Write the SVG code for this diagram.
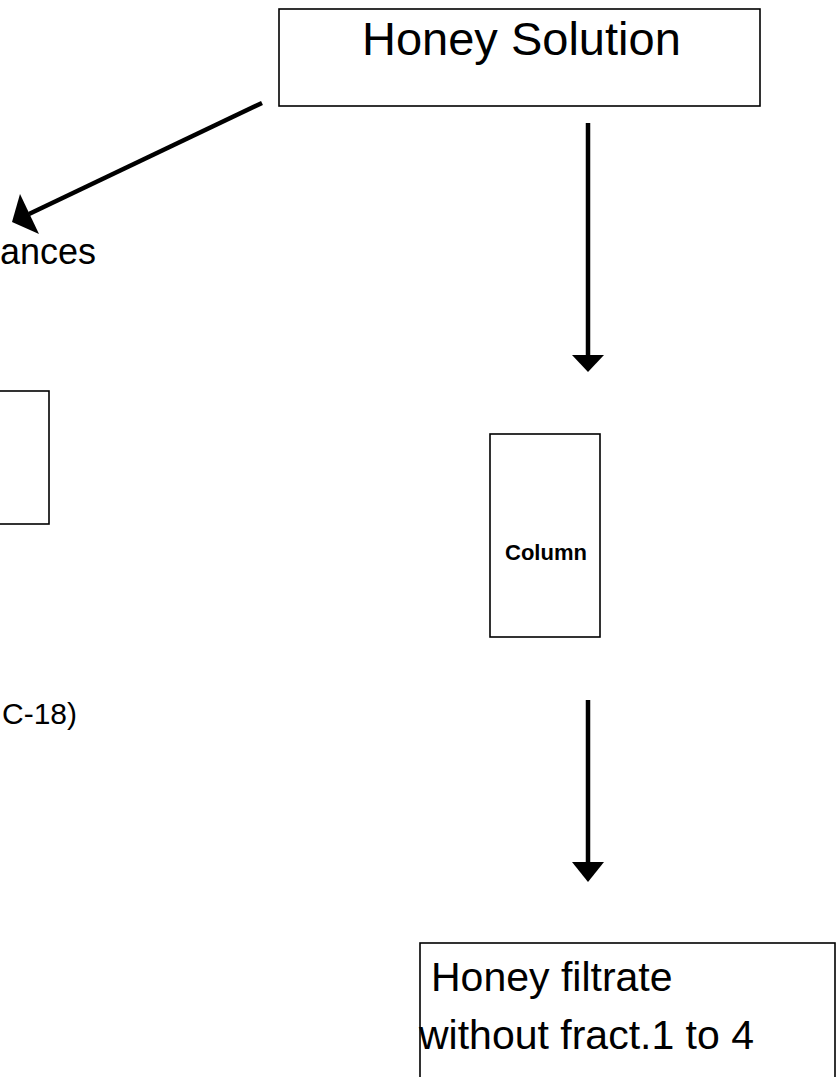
<svg xmlns="http://www.w3.org/2000/svg" width="839" height="1077" viewBox="0 0 839 1077">
<style>
.box{fill:#fff;stroke:#000;stroke-width:1.6}
.t{font-family:"Liberation Sans",Arial,sans-serif;fill:#000}
.ln{stroke:#000;stroke-width:4.5;fill:none}
.hd{fill:#000}
</style>
<rect width="839" height="1077" fill="#fff"/>
<g id="honey-solution">
<rect class="box" x="279" y="9" width="481" height="97"/>
<text class="t" x="362" y="55" font-size="47">Honey Solution</text>
</g>
<g id="substances-label">
<text class="t" x="0" y="264" font-size="36">ances</text>
</g>
<g id="left-box">
<rect class="box" x="-100" y="391" width="149" height="133"/>
</g>
<g id="c18-label">
<text class="t" x="77" y="724" font-size="30" text-anchor="end">C-18)</text>
</g>
<g id="column">
<rect class="box" x="490" y="434" width="110" height="203"/>
<text class="t" x="546" y="560" font-size="22" font-weight="bold" text-anchor="middle">Column</text>
</g>
<g id="honey-filtrate">
<rect class="box" x="420" y="943" width="415" height="160"/>
<text class="t" x="431" y="991" font-size="41">Honey filtrate</text>
<text class="t" x="419" y="1049" font-size="41">without fract.1 to 4</text>
</g>
<g id="connectors">
<line class="ln" x1="262" y1="103" x2="29" y2="214"/>
<polygon class="hd" points="12,222 39,234 20,194"/>
<line class="ln" x1="588" y1="123" x2="588" y2="356"/>
<polygon class="hd" points="572,355 604,355 588,372"/>
<line class="ln" x1="588" y1="700" x2="588" y2="864"/>
<polygon class="hd" points="572,862 604,862 588,882"/>
</g>
</svg>
